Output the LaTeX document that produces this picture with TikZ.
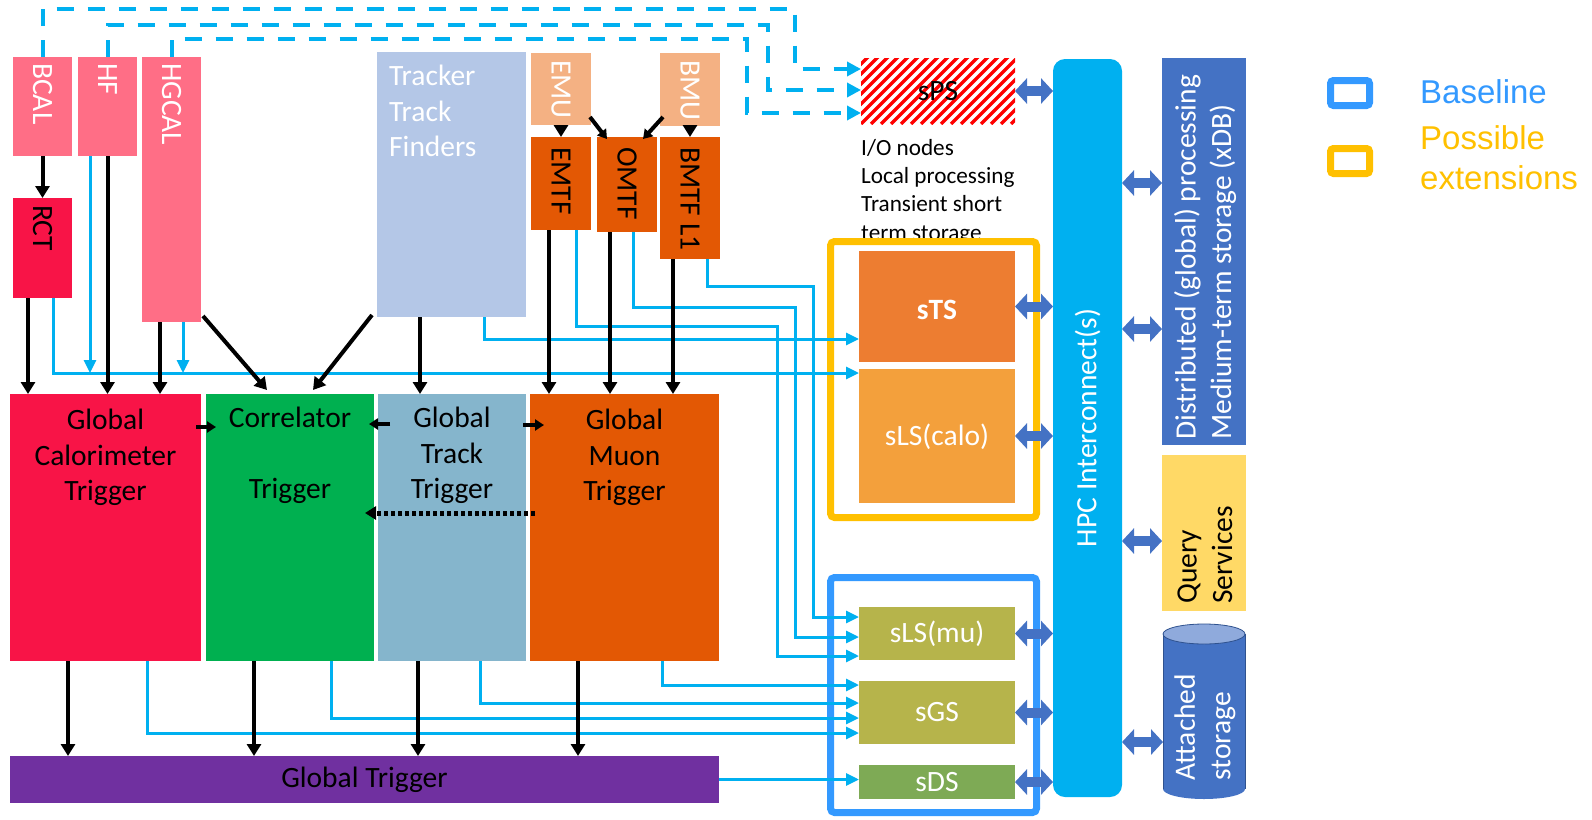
\documentclass[tikz,border=0pt]{standalone}
\usepackage{fontspec}
\setmainfont{Carlito}
\newfontfamily\legendfont{Liberation Sans}
\usetikzlibrary{arrows.meta,calc}

\definecolor{calpink}{HTML}{FF6E86}
\definecolor{calred}{HTML}{F81447}
\definecolor{trkblue}{HTML}{B4C7E7}
\definecolor{mulight}{HTML}{F4B183}
\definecolor{muorange}{HTML}{E35804}
\definecolor{corgreen}{HTML}{00B050}
\definecolor{gttblue}{HTML}{85B5CC}
\definecolor{gtpurple}{HTML}{7030A0}
\definecolor{stsorange}{HTML}{ED7D31}
\definecolor{lsorange}{HTML}{F3A03C}
\definecolor{olive}{HTML}{B6B44B}
\definecolor{dsgreen}{HTML}{7EAA55}
\definecolor{hpcblue}{HTML}{00B0F0}
\definecolor{steel}{HTML}{4472C4}
\definecolor{steellight}{HTML}{8FAADC}
\definecolor{steeldark}{HTML}{2F528F}
\definecolor{query}{HTML}{FFD966}
\definecolor{link}{HTML}{00B0F0}
\definecolor{basecol}{HTML}{3399FF}
\definecolor{extcol}{HTML}{FFC000}

\begin{document}
\begin{tikzpicture}[x=1pt, y=-1pt,
  box/.style={rectangle, inner sep=0pt, outer sep=0pt, anchor=north west},
  lab/.style={inner sep=0pt, font=\fontsize{29.5}{35.5}\selectfont},
  vlab/.style={lab, rotate=-90, anchor=west},
  blk/.style={line width=4pt, -{Triangle[length=12pt,width=14pt]}},
  sblk/.style={line width=4pt, -{Triangle[length=9pt,width=11pt]}},
  blu/.style={draw=link, line width=3pt, -{Triangle[length=13pt,width=12pt]}},
  dsh/.style={draw=link, line width=4pt, dash pattern=on 17pt off 14pt, -{Triangle[length=14pt,width=14pt]}},
  dbl/.style={draw=steel, line width=10pt, {Triangle[length=12pt,width=25pt]}-{Triangle[length=12pt,width=25pt]}},
  frame/.style={rectangle, inner sep=0pt, line width=7pt, rounded corners=4pt, fill=white}
]
\useasboundingbox (0,0) rectangle (1592,819);

% ---------------- calorimeter inputs ----------------
\node[box, fill=calpink, minimum width=59pt, minimum height=99pt] (bcal) at (13,57) {};
\node[box, fill=calpink, minimum width=59pt, minimum height=99pt] (hf) at (78,57) {};
\node[box, fill=calpink, minimum width=59pt, minimum height=265pt] (hgcal) at (142,57) {};
\node[box, fill=calred, minimum width=59pt, minimum height=100pt] (rct) at (13,198) {};
\node[vlab, text=white] (bcalT) at ($(bcal.north)+(0,6)$) {BCAL};
\node[vlab, text=white] (hfT) at ($(hf.north)+(0,6)$) {HF};
\node[vlab, text=white] (hgcalT) at ($(hgcal.north)+(0,6)$) {HGCAL};
\node[vlab, text=black] (rctT) at ($(rct.north)+(0,7)$) {RCT};

% ---------------- tracker ----------------
\node[box, fill=trkblue, minimum width=149pt, minimum height=265pt] (trk) at (377,52) {};
\node[lab, text=white, align=left, anchor=north west] (trkT) at (389,65) {Tracker\\Track\\Finders};

% ---------------- muon inputs ----------------
\node[box, fill=mulight, minimum width=60pt, minimum height=72pt] (emu) at (531,53) {};
\node[box, fill=mulight, minimum width=60pt, minimum height=73pt] (bmu) at (660,53) {};
\node[box, fill=muorange, minimum width=60pt, minimum height=93pt] (emtf) at (531,137) {};
\node[box, fill=muorange, minimum width=60pt, minimum height=95pt] (omtf) at (597,137) {};
\node[box, fill=muorange, minimum width=60pt, minimum height=122pt] (bmtf) at (660,137) {};
\node[vlab, text=white] (emuT) at ($(emu.north)+(0,7)$) {EMU};
\node[vlab, text=white] (bmuT) at ($(bmu.north)+(0,7)$) {BMU};
\node[vlab] (emtfT) at ($(emtf.north)+(0,10)$) {EMTF};
\node[vlab] (omtfT) at ($(omtf.north)+(0,10)$) {OMTF};
\node[vlab] (bmtfT) at ($(bmtf.north)+(0,10)$) {BMTF L1};

% ---------------- trigger layer ----------------
\node[box, fill=calred, minimum width=191pt, minimum height=267pt] (gct) at (10,394) {};
\node[box, fill=corgreen, minimum width=168pt, minimum height=267pt] (cor) at (206,394) {};
\node[box, fill=gttblue, minimum width=148pt, minimum height=267pt] (gtt) at (378,394) {};
\node[box, fill=muorange, minimum width=189pt, minimum height=267pt] (gmt) at (530,394) {};
\node[box, fill=gtpurple, minimum width=709pt, minimum height=47pt] (gt) at (10,756) {};
\node[lab, align=center, anchor=north] (gctT) at ($(gct.north)+(0,15)$) {Global\\Calorimeter\\Trigger};
\node[lab, align=center, anchor=north] (corT) at ($(cor.north)+(0,13)$) {Correlator\\[35.5pt]Trigger};
\node[lab, align=center, anchor=north] (gttT) at ($(gtt.north)+(0,13)$) {Global\\Track\\Trigger};
\node[lab, align=center, anchor=north] (gmtT) at ($(gmt.north)+(0,15)$) {Global\\Muon\\Trigger};
\node[lab] (gtT) at (gt.center) {Global Trigger};

% ---------------- scouting / storage side ----------------
\node[box, fill=white, minimum width=154pt, minimum height=66pt] (sps) at (861,58) {};
\begin{scope}
  \clip (sps.north west) rectangle (sps.south east);
  \foreach \i in {-8,...,16}
    \draw[red, line width=3.5pt] ($(sps.south west)+(10*\i,0)$) -- ++(80,-80);
\end{scope}
\node[lab] (spsT) at (sps.center) {sPS};
\node[inner sep=0pt, align=left, anchor=north west, font=\fontsize{23.2}{28.3}\selectfont] (ioT) at (861,139)
  {I/O nodes\\Local processing\\Transient short\\term storage};

\node[frame, draw=extcol, minimum width=206pt, minimum height=276pt] (extF) at (933.5,379.5) {};
\node[box, fill=stsorange, minimum width=156pt, minimum height=111pt] (sts) at (859,251) {};
\node[box, fill=lsorange, minimum width=156pt, minimum height=134pt] (slsc) at (859,369) {};
\node[lab, text=white, font=\fontsize{29.5}{35.5}\selectfont\bfseries] (stsT) at ($(sts.center)+(0,3)$) {sTS};
\node[lab, text=white] (slscT) at ($(slsc.center)+(0,1)$) {sLS(calo)};

\node[frame, draw=basecol, minimum width=206pt, minimum height=235pt] (baseF) at (933.5,695) {};
\node[box, fill=olive, minimum width=156pt, minimum height=53pt] (slsm) at (859,607) {};
\node[box, fill=olive, minimum width=156pt, minimum height=63pt] (sgs) at (859,681) {};
\node[box, fill=dsgreen, minimum width=156pt, minimum height=34pt] (sds) at (859,765) {};
\node[lab, text=white] (slsmT) at (slsm.center) {sLS(mu)};
\node[lab, text=white] (sgsT) at (sgs.center) {sGS};
\node[lab, text=white] (sdsT) at (sds.center) {sDS};

\node[box, fill=hpcblue, rounded corners=12pt, minimum width=69pt, minimum height=738pt] (hpc) at (1053,59) {};
\node[lab, text=white, rotate=90] (hpcT) at (hpc.center) {HPC Interconnect(s)};

\node[box, fill=steel, minimum width=84pt, minimum height=387pt] (dist) at (1162,58) {};
\node[lab, text=white, rotate=90, anchor=west, align=left] (distT) at (1205,440)
  {Distributed (global) processing\\Medium-term storage (xDB)};
\node[box, fill=query, minimum width=84pt, minimum height=156pt] (qry) at (1162,455) {};
\node[lab, rotate=90, anchor=west, align=left] (qryT) at (1205,604) {Query\\Services};

% attached storage drawn as a cylinder around an empty node
\node[box, minimum width=82pt, minimum height=175pt] (att) at (1163,624) {};
\fill[steel] ($(att.north west)+(0,10)$) rectangle ($(att.south east)+(0,-10)$);
\fill[steel] ($(att.south)+(0,-10)$) ellipse [x radius=41pt, y radius=10pt];
\draw[steeldark, line width=0.8pt] ($(att.north west)+(0,10)$) -- ($(att.south west)+(0,-10)$);
\draw[steeldark, line width=0.8pt] ($(att.north east)+(0,10)$) -- ($(att.south east)+(0,-10)$);
\filldraw[fill=steellight, draw=steeldark, line width=0.8pt] ($(att.north)+(0,10)$) ellipse [x radius=41pt, y radius=10pt];
\node[lab, text=white, rotate=90, anchor=west, align=left] (attT) at (1205,781) {Attached\\storage};

% ---------------- legend ----------------
\node[frame, draw=basecol, minimum width=39pt, minimum height=25pt, rounded corners=3pt] (lgB) at (1350,93) {};
\node[frame, draw=extcol, minimum width=39pt, minimum height=25pt, rounded corners=3pt] (lgY) at (1350,161) {};
\node[anchor=west, inner sep=0pt, text=basecol, font=\legendfont\fontsize{33}{40}\selectfont] (lgBT) at (1420,92) {Baseline};
\node[anchor=west, inner sep=0pt, text=extcol, align=left, font=\legendfont\fontsize{33}{40}\selectfont] (lgYT) at (1420,158) {Possible\\extensions};

% ---------------- scouting links (blue) ----------------
\coordinate (rctB)  at ($(rct.south west)+(40,0)$);
\coordinate (hfB)   at ($(hf.south west)+(12,0)$);
\coordinate (hgB)   at ($(hgcal.south west)+(41,0)$);
\coordinate (trkB)  at ($(trk.south west)+(107,0)$);
\coordinate (emtfB) at ($(emtf.south west)+(45,0)$);
\coordinate (omtfB) at ($(omtf.south west)+(36,0)$);
\coordinate (bmtfB) at ($(bmtf.south west)+(47,0)$);
\coordinate (gctB)  at ($(gct.south west)+(137,0)$);
\coordinate (corB)  at ($(cor.south west)+(125,0)$);
\coordinate (gttB)  at ($(gtt.south west)+(102,0)$);
\coordinate (gmtB)  at ($(gmt.south west)+(132,0)$);
\coordinate (calobus) at ($(slsc.north west)+(0,4)$);
\coordinate (stsIn) at ($(sts.north west)+(0,88)$);
\coordinate (muIn1) at ($(slsm.north west)+(0,10)$);
\coordinate (muIn2) at ($(slsm.north west)+(0,30)$);
\coordinate (muIn3) at ($(slsm.north west)+(0,49)$);
\coordinate (gsIn1) at ($(sgs.north west)+(0,4)$);
\coordinate (gsIn2) at ($(sgs.north west)+(0,22)$);
\coordinate (gsIn3) at ($(sgs.north west)+(0,37)$);
\coordinate (gsIn4) at ($(sgs.north west)+(0,52)$);

\draw[blu] (rctB) |- (calobus);
\draw[blu] (hfB) -- (hfB |- calobus);
\draw[blu] (hgB) -- (hgB |- calobus);
\draw[blu] (trkB) |- (stsIn);
\draw[blu] (bmtfB) |- ++(106,27) |- (muIn1);
\draw[blu] (omtfB) |- ++(162,75) |- (muIn2);
\draw[blu] (emtfB) |- ++(201,96) |- (muIn3);
\draw[blu] (gmtB) |- (gsIn1);
\draw[blu] (gttB) |- (gsIn2);
\draw[blu] (corB) |- (gsIn3);
\draw[blu] (gctB) |- (gsIn4);
\draw[blu] (gt.east) -- (gt.east -| sds.west);

% ---------------- partial scouting (dashed) ----------------
\draw[dsh] (bcal.north) |- ++(752.5,-48) |- ($(sps.north west)+(0,11)$);
\draw[dsh] (hf.north) |- ++(660.5,-32) |- ($(sps.north west)+(0,32)$);
\draw[dsh] (hgcal.north) |- ++(575.5,-18) |- ($(sps.north west)+(0,55)$);

% ---------------- trigger data flow (black) ----------------
\coordinate (rctK)  at ($(rct.south west)+(15,0)$);
\coordinate (hgK)   at ($(hgcal.south west)+(18,0)$);
\coordinate (trkK)  at ($(trk.south west)+(43,0)$);
\coordinate (emtfK) at ($(emtf.south west)+(18,0)$);
\coordinate (omtfK) at ($(omtf.south west)+(13,0)$);
\coordinate (bmtfK) at ($(bmtf.south west)+(13,0)$);
\coordinate (gctK)  at ($(gct.south west)+(58,0)$);
\coordinate (corK)  at ($(cor.south west)+(48,0)$);
\coordinate (gttK)  at ($(gtt.south west)+(40,0)$);
\coordinate (gmtK)  at ($(gmt.south west)+(48,0)$);

\draw[blk] (bcal.south) -- (rct.north);
\draw[blk] (rctK) -- (rctK |- gct.north);
\draw[blk] (hf.south) -- (hf.south |- gct.north);
\draw[blk] (hgK) -- (hgK |- gct.north);
\draw[blk] ($(hgcal.south east)+(2,-6)$) -- ($(cor.north west)+(61,-4)$);
\draw[blk] ($(trk.south west)+(-5,-2)$) -- ($(cor.north west)+(107,-4)$);
\draw[blk] (trkK) -- (trkK |- gtt.north);
\draw[blk] (emu.south) -- (emtf.north);
\draw[blk] (bmu.south) -- (bmtf.north);
\draw[sblk] ($(emu.south east)+(-1,-8)$) -- ($(omtf.north west)+(10,2)$);
\draw[sblk] ($(bmu.south west)+(3,-9)$) -- ($(omtf.north east)+(-14,2)$);
\draw[blk] (emtfK) -- (emtfK |- gmt.north);
\draw[blk] (omtfK) -- (omtfK |- gmt.north);
\draw[blk] (bmtfK) -- (bmtfK |- gmt.north);

\draw[sblk] ($(gct.north east)+(-5,33)$) -- ($(cor.north west)+(10,33)$);
\draw[sblk] ($(gtt.north west)+(12,30)$) -- ($(cor.north east)+(-5,30)$);
\draw[sblk] ($(gtt.north east)+(-3,31)$) -- ($(gmt.north west)+(14,31)$);
\draw[line width=5pt, dash pattern=on 4pt off 3pt, -{Triangle[length=11pt,width=13pt]}]
  ($(gmt.north west)+(5,119)$) -- ($(cor.north east)+(-9,119)$);

\draw[blk] (gctK) -- (gctK |- gt.north);
\draw[blk] (corK) -- (corK |- gt.north);
\draw[blk] (gttK) -- (gttK |- gt.north);
\draw[blk] (gmtK) -- (gmtK |- gt.north);

% ---------------- interconnect links ----------------
\draw[dbl] (sps.east) -- (sps.east -| hpc.west);
\draw[dbl] (sts.east) -- (sts.east -| hpc.west);
\draw[dbl] (slsc.east) -- (slsc.east -| hpc.west);
\draw[dbl] (slsm.east) -- (slsm.east -| hpc.west);
\draw[dbl] (sgs.east) -- (sgs.east -| hpc.west);
\draw[dbl] (sds.east) -- (sds.east -| hpc.west);
\coordinate (distA) at ($(dist.north west)+(0,125)$);
\coordinate (distB) at ($(dist.north west)+(0,271)$);
\coordinate (qryA)  at ($(qry.north west)+(0,86)$);
\coordinate (attA)  at ($(att.north west)+(0,118)$);
\draw[dbl] (distA -| hpc.east) -- (distA);
\draw[dbl] (distB -| hpc.east) -- (distB);
\draw[dbl] (qryA -| hpc.east) -- (qryA);
\draw[dbl] (attA -| hpc.east) -- (attA);
\end{tikzpicture}
\end{document}
